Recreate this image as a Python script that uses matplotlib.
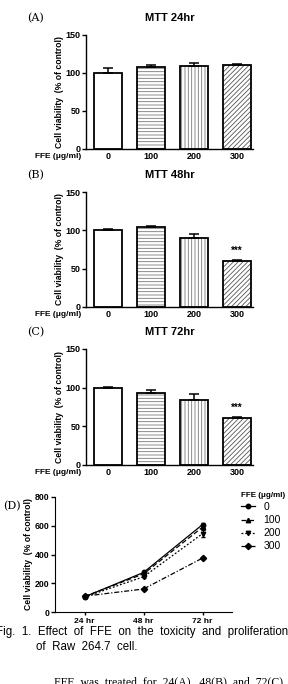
import matplotlib
matplotlib.use("Agg")
import matplotlib.pyplot as plt
import numpy as np

plt.rcParams['font.family'] = ['Liberation Sans', 'DejaVu Sans']
plt.rcParams['hatch.linewidth'] = 0.6

W, H = 288, 684

doses = ['0', '100', '200', '300']
mtt24 = [100, 108, 109, 110]
err24 = [6, 2, 4, 2]
mtt48 = [100, 105, 90, 60]
err48 = [2, 1, 5, 1]
mtt72 = [100, 93, 84, 61]
err72 = [0.5, 4, 8, 1]

times = ['24 hr', '48 hr', '72 hr']
prolif = {
    '0': [105, 275, 608],
    '100': [108, 265, 590],
    '200': [104, 245, 545],
    '300': [110, 160, 375],
}
prolif_err = {
    '0': [5, 10, 8],
    '100': [5, 8, 10],
    '200': [5, 8, 25],
    '300': [5, 6, 6],
}

hatches = [None, '-----', '|||||', '///////']
hatch_col = ['white', '#777777', '#777777', '#555555']

fig = plt.figure(figsize=(W / 100, H / 100), dpi=100)


def px_axes(l, t, r, b):
    return fig.add_axes([l / W, 1 - b / H, (r - l) / W, (b - t) / H])


def bar_panel(t, b, vals, errs, title, letter, star=False):
    ax = px_axes(86, t, 253, b)
    x = np.arange(len(doses))
    for i in range(len(x)):
        ax.bar(x[i], vals[i], width=0.66, color='white', edgecolor=hatch_col[i],
               hatch=hatches[i], linewidth=0, zorder=2)
    ax.bar(x, vals, width=0.66, fill=False, edgecolor='black', linewidth=1.3, zorder=3)
    ax.errorbar(x, vals, yerr=[np.zeros(len(x)), errs], fmt='none', ecolor='black',
                elinewidth=1.1, capsize=3.5, capthick=1.1, zorder=4)
    ax.set_xlim(-0.51, 3.37)
    ax.set_ylim(0, 150)
    ax.set_yticks([0, 50, 100, 150])
    ax.set_xticks(x)
    ax.set_xticklabels(doses, fontsize=6.5, fontweight='bold')
    ax.tick_params(axis='y', labelsize=6.5, length=3, width=1, pad=1)
    ax.tick_params(axis='x', length=0, pad=2.5)
    for lab in ax.get_yticklabels():
        lab.set_fontweight('bold')
    for s in ['top', 'right']:
        ax.spines[s].set_visible(False)
    for s in ['left', 'bottom']:
        ax.spines[s].set_linewidth(1)
    ax.set_ylabel('Cell viability  (% of control)', fontsize=6.2, fontweight='bold', labelpad=1)
    ax.set_title(title, fontsize=8, fontweight='bold', pad=10)
    fig.text(81 / W, 1 - (b + 8) / H, 'FFE (\u03bcg/ml)', fontsize=6,
             fontweight='bold', ha='right', va='center')
    fig.text(27 / W, 1 - (t - 17) / H, letter, fontsize=8, family='DejaVu Serif',
             ha='left', va='center')
    if star:
        ax.text(x[3], vals[3] + 7, '***', ha='center', va='bottom', fontsize=7, fontweight='bold')
    return ax


bar_panel(35, 149, mtt24, err24, 'MTT 24hr', '(A)')
bar_panel(192, 307, mtt48, err48, 'MTT 48hr', '(B)', star=True)
bar_panel(349, 465, mtt72, err72, 'MTT 72hr', '(C)', star=True)

# panel D
ax = px_axes(55, 497, 232, 612)
styles = {
    '0': ('o', '-'),
    '100': ('^', (0, (4, 2))),
    '200': ('v', (0, (1.5, 1.5))),
    '300': ('D', (0, (4, 1.5, 1, 1.5))),
}
xt = np.arange(len(times))
for k in prolif:
    m, ls = styles[k]
    ax.errorbar(xt, prolif[k], yerr=prolif_err[k], color='black', fmt='none',
                elinewidth=0.8, capsize=1.5)
    ax.plot(xt, prolif[k], color='black', marker=m, markersize=3.2,
            linestyle=ls, linewidth=0.9, label=k)
ax.set_xlim(-0.5, 2.5)
ax.set_ylim(0, 800)
ax.set_yticks([0, 200, 400, 600, 800])
ax.set_xticks(xt)
ax.set_xticklabels(times, fontsize=6, fontweight='bold')
ax.tick_params(axis='y', labelsize=6.3, length=3, width=1, pad=1)
ax.tick_params(axis='x', length=2, width=1, pad=2)
for lab in ax.get_yticklabels():
    lab.set_fontweight('bold')
for s in ['top', 'right']:
    ax.spines[s].set_visible(False)
ax.set_ylabel('Cell viability  (% of control)', fontsize=6.2, fontweight='bold', labelpad=1)
leg = ax.legend(loc='upper left', bbox_to_anchor=(1.03, 1.08), frameon=False, fontsize=7.5,
                title='FFE (\u03bcg/ml)', handlelength=1.3, handletextpad=0.8,
                labelspacing=0.3, borderaxespad=0)
leg.get_title().set_fontsize(5.8)
leg.get_title().set_fontweight('bold')
leg._legend_box.align = 'left'
fig.text(3 / W, 1 - 506 / H, '(D)', fontsize=8, family='DejaVu Serif', ha='left', va='center')

# caption
cap_font = ['Liberation Sans Narrow', 'Liberation Sans', 'DejaVu Sans']
fig.text(-4 / W, 1 - 632 / H, 'Fig.  1.  Effect  of  FFE  on  the  toxicity  and  proliferation',
         fontsize=8.3, family=cap_font, ha='left', va='center')
fig.text(36 / W, 1 - 647 / H, 'of  Raw  264.7  cell.', fontsize=8.3, family=cap_font,
         ha='left', va='center')
fig.text(54 / W, 1 - 682 / H, 'FFE  was  treated  for  24(A),  48(B)  and  72(C)  h',
         fontsize=8.5, family=['Liberation Serif', 'DejaVu Serif'], ha='left', va='center')

fig.savefig('out.png', dpi=100)
